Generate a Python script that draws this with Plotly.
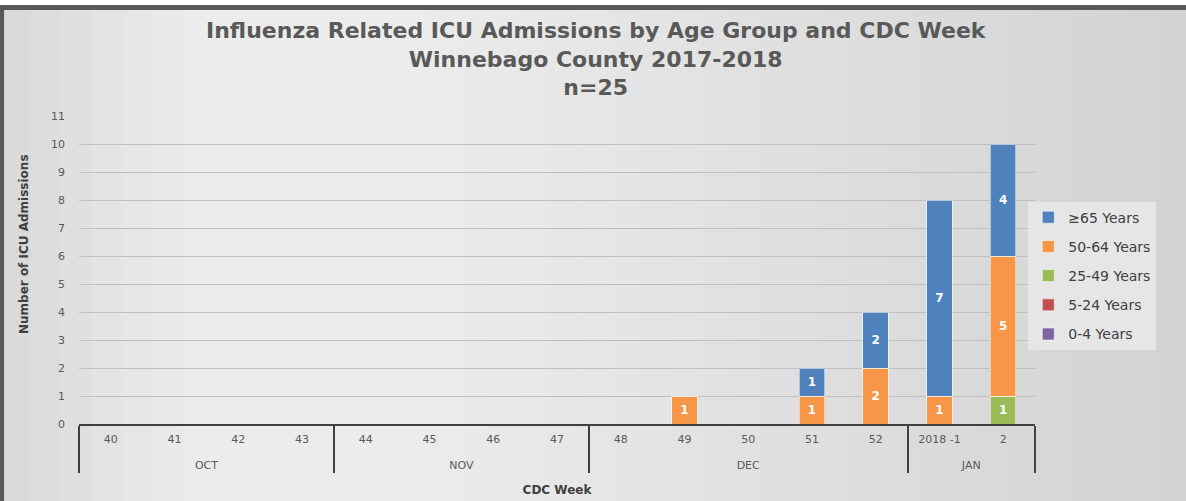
import plotly.graph_objects as go

months = ["OCT"] * 4 + ["NOV"] * 4 + ["DEC"] * 5 + ["JAN"] * 2
weeks = ["40", "41", "42", "43", "44", "45", "46", "47", "48", "49", "50", "51", "52", "2018 -1", "2"]

age_0_4 = [0] * 15
age_5_24 = [0] * 15
age_25_49 = [0, 0, 0, 0, 0, 0, 0, 0, 0, 0, 0, 0, 0, 0, 1]
age_50_64 = [0, 0, 0, 0, 0, 0, 0, 0, 0, 1, 0, 1, 2, 1, 5]
age_65_plus = [0, 0, 0, 0, 0, 0, 0, 0, 0, 0, 0, 1, 2, 7, 4]

series = [
    ("0-4 Years", age_0_4, "#8064A2", 5),
    ("5-24 Years", age_5_24, "#C0504D", 4),
    ("25-49 Years", age_25_49, "#9BBB59", 3),
    ("50-64 Years", age_50_64, "#F79646", 2),
    ("≥65 Years", age_65_plus, "#4F81BD", 1),
]

FONT = "DejaVu Sans"

# month labels sit one line lower than the week labels
month_labels = ["<br>" + m for m in months]

fig = go.Figure()
for name, vals, color, rank in series:
    fig.add_trace(go.Bar(
        x=[month_labels, weeks], y=vals, name=name,
        marker=dict(color=color, line=dict(color="rgba(255,255,255,0.55)", width=1)),
        text=[str(v) if v else "" for v in vals],
        textposition="inside", insidetextanchor="middle",
        textfont=dict(color="white", size=12, family=FONT, weight="bold"),
        legendgroup=name, legendrank=rank,
    ))

# background gradient strips (paper coords)
shapes = []
n = 40
for i in range(n):
    t = i / (n - 1)
    c = int(236 - 40 * max(0, t - 0.35) - 18 * max(0, 0.15 - t) / 0.15)
    shapes.append(dict(type="rect", xref="paper", yref="paper",
                       x0=-0.083 + t * 1.245, x1=-0.083 + (t + 1.0 / (n - 1)) * 1.245 + 0.002,
                       y0=-0.26, y1=1.3523, layer="below", line=dict(width=0),
                       fillcolor=f"rgb({c},{c},{c})"))
# white strip above the frame
shapes.append(dict(type="rect", xref="paper", yref="paper", x0=-0.083, x1=1.16, y0=1.3523, y1=1.38,
                   layer="below", line=dict(width=0), fillcolor="white"))
# frame (top and left)
shapes.append(dict(type="line", xref="paper", yref="paper", x0=-0.083, x1=1.16, y0=1.3523, y1=1.3523,
                   line=dict(color="#585858", width=5)))
shapes.append(dict(type="line", xref="paper", yref="paper", x0=-0.0805, x1=-0.0805, y0=-0.26, y1=1.36,
                   line=dict(color="#585858", width=4)))

fig.update_layout(
    width=1186, height=501,
    margin=dict(l=79, r=151, t=116, b=77, autoexpand=False),
    paper_bgcolor="#dcdcdc", plot_bgcolor="rgba(0,0,0,0)",
    barmode="stack", bargap=0.6,
    shapes=shapes,
    annotations=[
        dict(
            text="Influenza Related ICU Admissions by Age Group and CDC Week<br>Winnebago County 2017-2018<br>n=25",
            xref="paper", yref="paper", x=0.5408, xanchor="center", y=1.326, yanchor="top",
            showarrow=False, align="center",
            font=dict(family=FONT, size=22, color="#595959", weight="bold"),
        ),
        dict(
            text="Number of ICU Admissions", textangle=-90,
            xref="paper", yref="paper", x=-0.0575, xanchor="center", y=0.5844, yanchor="middle",
            showarrow=False,
            font=dict(size=12, color="#404040", weight="bold", family=FONT),
        ),
    ],
    font=dict(family=FONT, color="#595959"),
    xaxis=dict(
        type="multicategory", automargin=False,
        showline=True, linecolor="#404040", linewidth=2,
        showdividers=True, dividercolor="#404040", dividerwidth=2,
        tickfont=dict(size=11, color="#595959"), ticklabelstandoff=4,
        title=dict(text="CDC Week", font=dict(size=12, color="#404040", weight="bold"), standoff=15),
        showgrid=False, zeroline=False,
    ),
    yaxis=dict(
        range=[0, 11], dtick=1, showgrid=True, gridcolor="#c0c0c0", gridwidth=1,
        zeroline=False, tickfont=dict(size=11, color="#595959"), automargin=False,
        ticks="", ticklabelstandoff=13,
    ),
    legend=dict(
        x=0.993, xanchor="left", y=0.722, yanchor="top",
        traceorder="grouped", tracegroupgap=8,
        bgcolor="rgba(232,232,232,0.9)",
        font=dict(size=14, color="#404040"),
        itemwidth=30,
    ),
)

fig.write_html("out.html", config={"displayModeBar": False},
               post_script="document.body.style.margin='0';")
